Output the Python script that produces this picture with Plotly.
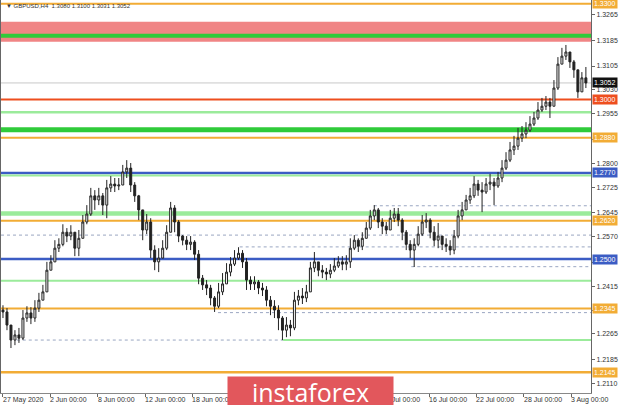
import plotly.graph_objects as go

close = [
    1.2334, 1.2293, 1.2246, 1.2262, 1.2252, 1.2315, 1.2331, 1.2315, 1.2346, 1.2371,
    1.2397, 1.2465, 1.2491, 1.2534, 1.2546, 1.2584, 1.2572, 1.2584, 1.2534, 1.2565,
    1.2616, 1.2641, 1.2698, 1.2685, 1.2698, 1.2669, 1.2723, 1.2735, 1.2729, 1.2732,
    1.2773, 1.2785, 1.2732, 1.2698, 1.2654, 1.2591, 1.2616, 1.2528, 1.2491, 1.2503,
    1.2534, 1.2584, 1.2660, 1.2616, 1.2572, 1.2559, 1.2546, 1.2553, 1.2515, 1.2440,
    1.2419, 1.2409, 1.2378, 1.2352, 1.2397, 1.2422, 1.2459, 1.2484, 1.2503, 1.2518,
    1.2491, 1.2434, 1.2422, 1.2428, 1.2409, 1.2403, 1.2371, 1.2352, 1.2340, 1.2315,
    1.2277, 1.2293, 1.2284, 1.2371, 1.2384, 1.2378, 1.2397, 1.2472, 1.2491, 1.2465,
    1.2459, 1.2453, 1.2465, 1.2478, 1.2491, 1.2484, 1.2491, 1.2534, 1.2559, 1.2540,
    1.2565, 1.2597, 1.2635, 1.2654, 1.2616, 1.2603, 1.2591, 1.2628, 1.2641, 1.2622,
    1.2584, 1.2546, 1.2528, 1.2546, 1.2578, 1.2616, 1.2622, 1.2584, 1.2559, 1.2572,
    1.2546, 1.2540, 1.2528, 1.2572, 1.2635, 1.2654, 1.2685, 1.2698, 1.2735, 1.2716,
    1.2710, 1.2735, 1.2741, 1.2729, 1.2754, 1.2785, 1.2810, 1.2842, 1.2854, 1.2879,
    1.2892, 1.2904, 1.2923, 1.2942, 1.2967, 1.2979, 1.2992, 1.2979, 1.3036, 1.3111,
    1.3136, 1.3149, 1.3118, 1.3093, 1.3024, 1.3068, 1.3052]

high = [
    1.2355, 1.2346, 1.2293, 1.2277, 1.2284, 1.2340, 1.2352, 1.2349, 1.2371, 1.2394,
    1.2419, 1.2491, 1.2512, 1.2559, 1.2565, 1.2609, 1.2597, 1.2606, 1.2584, 1.2591,
    1.2638, 1.2669, 1.2723, 1.2716, 1.2723, 1.2707, 1.2748, 1.2760, 1.2754, 1.2754,
    1.2795, 1.2810, 1.2801, 1.2741, 1.2701, 1.2654, 1.2641, 1.2628, 1.2543, 1.2534,
    1.2559, 1.2606, 1.2679, 1.2669, 1.2622, 1.2575, 1.2572, 1.2572, 1.2559, 1.2528,
    1.2450, 1.2434, 1.2419, 1.2384, 1.2425, 1.2456, 1.2487, 1.2506, 1.2528, 1.2537,
    1.2528, 1.2503, 1.2446, 1.2446, 1.2434, 1.2425, 1.2415, 1.2384, 1.2371, 1.2355,
    1.2321, 1.2318, 1.2309, 1.2397, 1.2403, 1.2409, 1.2419, 1.2491, 1.2522, 1.2491,
    1.2481, 1.2472, 1.2484, 1.2503, 1.2509, 1.2509, 1.2512, 1.2565, 1.2575, 1.2565,
    1.2584, 1.2616, 1.2654, 1.2669, 1.2660, 1.2628, 1.2616, 1.2654, 1.2660, 1.2660,
    1.2628, 1.2591, 1.2559, 1.2565, 1.2603, 1.2638, 1.2644, 1.2628, 1.2603, 1.2613,
    1.2572, 1.2565, 1.2559, 1.2591, 1.2654, 1.2679, 1.2701, 1.2723, 1.2760, 1.2748,
    1.2741, 1.2754, 1.2767, 1.2754, 1.2773, 1.2810, 1.2835, 1.2867, 1.2886, 1.2911,
    1.2917, 1.2929, 1.2948, 1.2961, 1.2992, 1.3005, 1.3011, 1.3005, 1.3061, 1.3133,
    1.3162, 1.3171, 1.3149, 1.3124, 1.3093, 1.3086, 1.3102]

low = [
    1.2315, 1.2277, 1.2221, 1.2230, 1.2237, 1.2246, 1.2303, 1.2296, 1.2303, 1.2334,
    1.2371, 1.2397, 1.2465, 1.2491, 1.2522, 1.2540, 1.2553, 1.2559, 1.2509, 1.2509,
    1.2572, 1.2609, 1.2635, 1.2654, 1.2669, 1.2638, 1.2628, 1.2710, 1.2710, 1.2716,
    1.2741, 1.2754, 1.2710, 1.2679, 1.2622, 1.2559, 1.2578, 1.2503, 1.2465, 1.2459,
    1.2503, 1.2528, 1.2584, 1.2584, 1.2553, 1.2543, 1.2528, 1.2528, 1.2497, 1.2421,
    1.2403, 1.2387, 1.2355, 1.2334, 1.2346, 1.2387, 1.2422, 1.2446, 1.2478, 1.2497,
    1.2472, 1.2403, 1.2403, 1.2403, 1.2390, 1.2384, 1.2352, 1.2324, 1.2315, 1.2277,
    1.2246, 1.2255, 1.2258, 1.2277, 1.2355, 1.2359, 1.2365, 1.2403, 1.2459, 1.2446,
    1.2440, 1.2434, 1.2440, 1.2459, 1.2472, 1.2465, 1.2465, 1.2472, 1.2528, 1.2522,
    1.2528, 1.2572, 1.2591, 1.2622, 1.2597, 1.2578, 1.2578, 1.2591, 1.2616, 1.2603,
    1.2559, 1.2528, 1.2503, 1.2475, 1.2540, 1.2572, 1.2597, 1.2565, 1.2540, 1.2534,
    1.2528, 1.2522, 1.2512, 1.2515, 1.2565, 1.2622, 1.2660, 1.2673, 1.2691, 1.2698,
    1.2647, 1.2704, 1.2716, 1.2669, 1.2723, 1.2741, 1.2779, 1.2804, 1.2826, 1.2842,
    1.2867, 1.2879, 1.2898, 1.2917, 1.2936, 1.2961, 1.2967, 1.2942, 1.2986, 1.3030,
    1.3118, 1.3124, 1.3099, 1.3068, 1.3005, 1.3043, 1.3036]

first_open = 1.2340
bars_per_candle = 2.024  # H4 bars covered by each sampled candle

# x-axis (H4 bar index from 27 May 2020 00:00); labels under the watermark omitted
tick_bars = [0, 24, 48, 72, 96, 120, 144, 168, 192, 216, 240, 264, 288]
label_bars = [0, 24, 48, 72, 96, 192, 216, 240, 264, 288]
tick_labels = ["27 May 2020", "2 Jun 00:00", "8 Jun 00:00", "12 Jun 00:00",
               "18 Jun 00:00", "10 Jul 00:00", "16 Jul 00:00", "22 Jul 00:00",
               "28 Jul 00:00", "3 Aug 00:00"]

# y-axis ticks (labels hidden under level boxes left blank)
y_ticks = [1.3265, 1.3185, 1.3105, 1.3030, 1.2955, 1.2875, 1.2800, 1.2725,
           1.2645, 1.2570, 1.2490, 1.2415, 1.2340, 1.2265, 1.2185, 1.2110]
y_tick_text = ["1.3265", "1.3185", "1.3105", "1.3030", "1.2955", "", "1.2800",
               "1.2725", "1.2645", "1.2570", "", "1.2415", "", "1.2265", "1.2185",
               "1.2110"]

# horizontal levels: price, colour, width
level_prices = [1.3300, 1.3200, 1.3000, 1.2960, 1.2905, 1.2880, 1.2770, 1.2762,
                1.2643, 1.2620, 1.2500, 1.2432, 1.2345, 1.2145]
level_colors = ["#F2AC35", "#2FCB3A", "#EE4E1E", "#9BEB9B", "#2FCB3A", "#F2AC35",
                "#3B5CC4", "#9BEB9B", "#9BEB9B", "#F2AC35", "#3B5CC4", "#9BEB9B",
                "#F2AC35", "#F2AC35"]
level_widths = [2, 4, 2, 2.5, 5, 2, 2.5, 2, 4.5, 2, 2.5, 2, 2, 2.5]

# levels starting later in time (price, start bar)
partial_green = [(1.2246, 142)]
dotted_levels = [(1.2667, 188, 298.1), (1.2575, -1, 298.1), (1.2538, 120, 298.1),
                 (1.2476, 207, 298.1), (1.2332, 109, 298.1), (1.2246, 7, 142)]

zone_low, zone_high = 1.3181, 1.3244
current_price = 1.3052

# price labels on right axis
label_prices = [1.3300, 1.3052, 1.3000, 1.2880, 1.2770, 1.2620, 1.2500, 1.2345, 1.2145]
label_texts = ["1.3300", "1.3052", "1.3000", "1.2880", "1.2770", "1.2620", "1.2500",
               "1.2345", "1.2145"]
label_colors = ["#F2AC35", "#111111", "#EE4E1E", "#F2AC35", "#3B5CC4", "#F2AC35",
                "#3B5CC4", "#F2AC35", "#F2AC35"]

# ---- build ----
n = len(close)
x = [round(i * bars_per_candle, 3) for i in range(n)]
opens = [first_open] + close[:-1]
hi = [max(h, o, c) for h, o, c in zip(high, opens, close)]
lo = [min(l, o, c) for l, o, c in zip(low, opens, close)]

fig = go.Figure()
fig.add_trace(go.Candlestick(
    x=x, open=opens, high=hi, low=lo, close=close,
    increasing=dict(fillcolor="#ffffff", line=dict(color="#222222", width=1)),
    decreasing=dict(fillcolor="#222222", line=dict(color="#222222", width=1)),
    whiskerwidth=0, showlegend=False, hoverinfo="skip"))

shapes = []
shapes.append(dict(type="rect", xref="paper", yref="y", x0=0, x1=1,
                   y0=zone_low, y1=zone_high, fillcolor="#F08585",
                   line=dict(width=0), layer="below"))
shapes.append(dict(type="line", xref="paper", yref="y", x0=0, x1=1,
                   y0=current_price, y1=current_price,
                   line=dict(color="#C8C8C8", width=1), layer="below"))
for p, x0, x1 in dotted_levels:
    shapes.append(dict(type="line", xref="x", yref="y", x0=x0, x1=x1, y0=p, y1=p,
                       line=dict(color="#9AA6C2", width=1, dash="dot"), layer="below"))
for p, c, w in zip(level_prices, level_colors, level_widths):
    shapes.append(dict(type="line", xref="paper", yref="y", x0=0, x1=1, y0=p, y1=p,
                       line=dict(color=c, width=w), layer="below"))
for p, x0 in partial_green:
    shapes.append(dict(type="line", xref="x", yref="y", x0=x0, x1=298.1, y0=p, y1=p,
                       line=dict(color="#9BEB9B", width=2), layer="below"))

annotations = []
for p, t, c in zip(label_prices, label_texts, label_colors):
    annotations.append(dict(xref="paper", yref="y", x=1, y=p, xanchor="left",
                            yanchor="middle", xshift=1, text=t, showarrow=False,
                            bgcolor=c, borderpad=1,
                            font=dict(size=7, color="#ffffff", family="Liberation Sans")))
for tb, tl in zip(label_bars, tick_labels):
    annotations.append(dict(xref="x", yref="paper", x=tb, y=0, xanchor="left",
                            yanchor="top", yshift=-1, xshift=-2, text=tl,
                            showarrow=False,
                            font=dict(size=7, color="#333333", family="Liberation Sans")))
annotations.append(dict(xref="paper", yref="paper", x=0, y=1, xanchor="left",
                        yanchor="top", xshift=3, yshift=-1,
                        text="▼ GBPUSD,H4  1.3080 1.3100 1.3031 1.3052",
                        showarrow=False,
                        font=dict(size=6, color="#333333", family="Liberation Sans")))
annotations.append(dict(xref="paper", yref="paper", x=0.5246, y=0.0433,
                        xanchor="center", yanchor="top", text="instaforex",
                        showarrow=False, bgcolor="#E2575C", width=165, height=30,
                        borderpad=0,
                        font=dict(size=25, color="#ffffff", family="Open Sans")))

fig.update_layout(
    width=620, height=405,
    margin=dict(l=1, r=29, t=0, b=12),
    paper_bgcolor="#ffffff", plot_bgcolor="#ffffff",
    shapes=shapes, annotations=annotations,
    xaxis=dict(range=[-1, 298.1], tickvals=tick_bars, showticklabels=False,
               ticks="outside", ticklen=3, tickcolor="#666666",
               showgrid=False, zeroline=False, showline=True, mirror=True,
               linecolor="#888888", linewidth=1, rangeslider=dict(visible=False),
               fixedrange=True),
    yaxis=dict(side="right", range=[1.2080, 1.3312], tickvals=y_ticks,
               ticktext=y_tick_text, ticks="outside", ticklen=3,
               tickcolor="#666666", showgrid=False, zeroline=False, showline=True,
               mirror=True, linecolor="#666666", linewidth=1,
               tickfont=dict(size=7, color="#333333", family="Liberation Sans"),
               fixedrange=True),
)

fig.write_html("out.html", config={"displayModeBar": False},
               post_script="document.body.style.margin='0px';document.body.style.padding='0px';")
